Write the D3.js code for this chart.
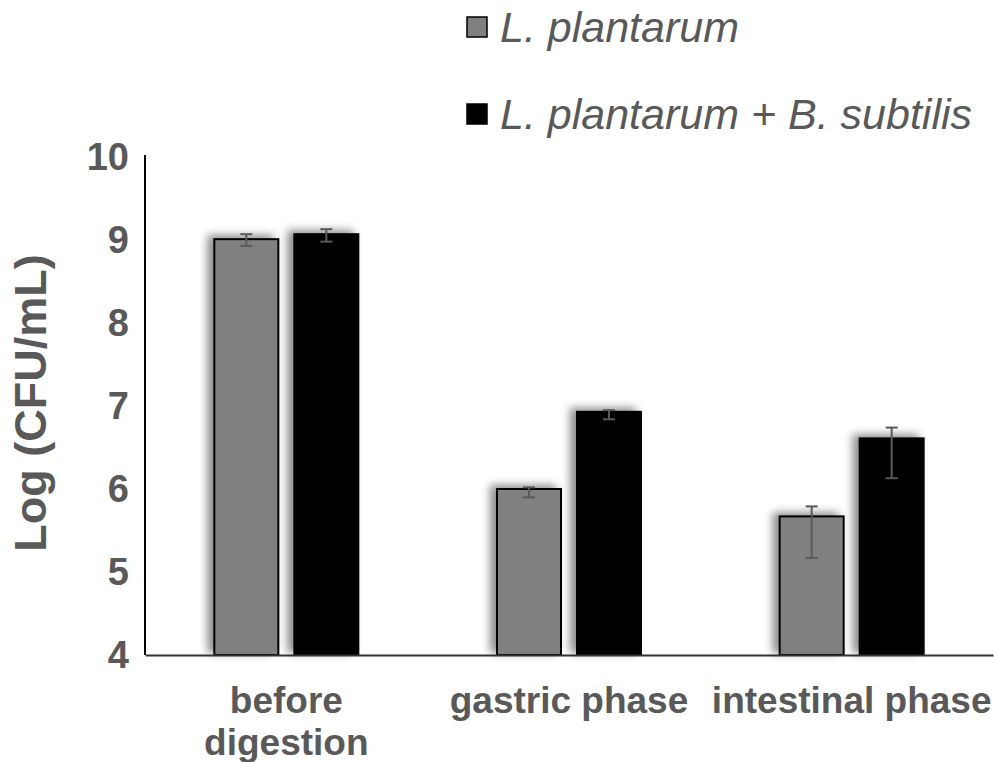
<!DOCTYPE html>
<html>
<head>
<meta charset="utf-8">
<script src="https://cdn.jsdelivr.net/npm/d3@7"></script>
<style>
  body { margin: 0; background: #fff; }
  text { font-family: "Liberation Sans", Arial, sans-serif; }
</style>
</head>
<body>
<div id="chart"></div>
<script>
const categories = ["before digestion", "gastric phase", "intestinal phase"];
const categoryLines = [["before", "digestion"], ["gastric phase"], ["intestinal phase"]];
const series = ["L. plantarum", "L. plantarum + B. subtilis"];
const seriesColors = ["#808080", "#000000"];
const lpValues = [9.01, 6.00, 5.67];
const lpbsValues = [9.07, 6.93, 6.61];
const lpErrUp = [0.06, 0.02, 0.12];
const lpErrDown = [0.08, 0.10, 0.50];
const lpbsErrUp = [0.06, 0.02, 0.13];
const lpbsErrDown = [0.09, 0.09, 0.48];
const yTicks = [4, 5, 6, 7, 8, 9, 10];

const width = 994, height = 762;
const margin = { top: 157, right: 1, bottom: 107, left: 145 };
const innerW = width - margin.left - margin.right;
const innerH = height - margin.top - margin.bottom;

const rows = [];
categories.forEach((c, i) => {
  rows.push({ cat: c, s: series[0], v: lpValues[i], up: lpErrUp[i], down: lpErrDown[i] });
  rows.push({ cat: c, s: series[1], v: lpbsValues[i], up: lpbsErrUp[i], down: lpbsErrDown[i] });
});

const svg = d3.select('#chart').append('svg')
  .attr('width', width)
  .attr('height', height);

// soft shadow to the upper left, like the office chart
const defs = svg.append('defs');
const f = defs.append('filter').attr('id', 'shadow')
  .attr('x', '-30%').attr('y', '-10%').attr('width', '140%').attr('height', '120%');
f.append('feDropShadow')
  .attr('dx', -6).attr('dy', -3).attr('stdDeviation', 4)
  .attr('flood-color', '#000').attr('flood-opacity', 0.45);

const g = svg.append('g').attr('transform', `translate(${margin.left},${margin.top})`);

const x0 = d3.scaleBand().domain(categories).range([0, innerW]);
const bw = x0.bandwidth();
const x1 = d3.scaleBand().domain(series)
  .range([(bw - 144) / 2, (bw + 144) / 2]).paddingInner(0.2);
const y = d3.scaleLinear().domain([4, 10]).range([innerH, 0]);
const color = d3.scaleOrdinal().domain(series).range(seriesColors);

// bars
g.append('g').selectAll('rect')
  .data(rows)
  .join('rect')
  .attr('x', d => x0(d.cat) + x1(d.s))
  .attr('y', d => y(d.v))
  .attr('width', x1.bandwidth())
  .attr('height', d => y(4) - y(d.v))
  .attr('fill', d => color(d.s))
  .attr('stroke', '#000')
  .attr('stroke-width', 2)
  .attr('filter', 'url(#shadow)');

// error bars
const eb = g.append('g').selectAll('g')
  .data(rows)
  .join('g')
  .attr('transform', d => `translate(${x0(d.cat) + x1(d.s) + x1.bandwidth() / 2},0)`)
  .attr('stroke', '#595959')
  .attr('stroke-width', 2);
eb.append('line')
  .attr('y1', d => y(d.v + d.up)).attr('y2', d => y(d.v - d.down));
eb.append('line')
  .attr('x1', -6).attr('x2', 6)
  .attr('y1', d => y(d.v + d.up)).attr('y2', d => y(d.v + d.up));
eb.append('line')
  .attr('x1', -6).attr('x2', 6)
  .attr('y1', d => y(d.v - d.down)).attr('y2', d => y(d.v - d.down));

// y axis
const yAxis = g.append('g')
  .call(d3.axisLeft(y).tickValues(yTicks).tickSize(0).tickPadding(16).tickFormat(d3.format('d')));
yAxis.select('.domain').attr('stroke', '#000').attr('stroke-width', 2).attr('d', `M0,-2V${innerH}`);
yAxis.selectAll('text')
  .attr('fill', '#595959')
  .style('font-size', '38px')
  .style('font-weight', 'bold');

// x axis
const xAxis = g.append('g')
  .attr('transform', `translate(0,${innerH})`)
  .call(d3.axisBottom(x0).tickSize(0).tickFormat(''));
xAxis.select('.domain').attr('stroke', '#333').attr('stroke-width', 2);
xAxis.selectAll('.tick text').remove();
xAxis.selectAll('.tick').append('text')
  .attr('fill', '#595959')
  .attr('text-anchor', 'middle')
  .style('font-size', '37px')
  .style('font-weight', 'bold')
  .selectAll('tspan')
  .data(d => categoryLines[categories.indexOf(d)])
  .join('tspan')
  .attr('x', 0)
  .attr('y', (d, i) => 58 + i * 42)
  .text(d => d);

// y label
svg.append('text')
  .attr('transform', `translate(46,${margin.top + innerH / 2 - 3}) rotate(-90)`)
  .attr('text-anchor', 'middle')
  .attr('fill', '#595959')
  .style('font-size', '45px')
  .style('font-weight', 'bold')
  .text('Log (CFU/mL)');

// legend
const legend = svg.append('g').selectAll('g')
  .data(series)
  .join('g')
  .attr('transform', (d, i) => `translate(467,${27 + i * 87})`);
legend.append('rect')
  .attr('x', 0).attr('y', -10)
  .attr('width', 20).attr('height', 20)
  .attr('fill', d => color(d))
  .attr('stroke', '#000')
  .attr('stroke-width', 1.5);
legend.append('text')
  .attr('x', 33)
  .attr('y', 15)
  .attr('fill', '#595959')
  .style('font-size', '43px')
  .style('font-style', 'italic')
  .text(d => d);
</script>
</body>
</html>
